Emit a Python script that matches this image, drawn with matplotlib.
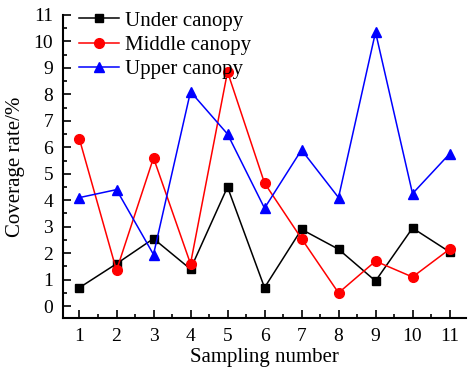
import numpy as np
import matplotlib.pyplot as plt
from matplotlib.ticker import MultipleLocator

plt.rcParams['font.family'] = ['Liberation Serif', 'DejaVu Serif']

samples = list(range(1, 12))
under = [0.7, 1.6, 2.55, 1.4, 4.5, 0.7, 2.9, 2.15, 0.95, 2.95, 2.05]
middle = [6.3, 1.35, 5.6, 1.6, 8.85, 4.65, 2.55, 0.5, 1.7, 1.1, 2.15]
upper = [4.1, 4.4, 1.95, 8.1, 6.5, 3.7, 5.9, 4.1, 10.35, 4.25, 5.75]

fig = plt.figure(figsize=(4.69, 3.72), dpi=100)
ax = fig.add_axes([0.134, 0.145, 0.86, 0.815])

ax.plot(samples, under, color='black', marker='s', markersize=6, lw=1.1, label='Under canopy')
ax.plot(samples, middle, color='red', marker='o', markersize=7, lw=1.1, label='Middle canopy')
ax.plot(samples, upper, color='blue', marker='^', markersize=7, lw=1.1, label='Upper canopy')

ax.set_xlim(0.55, 11.45)
ax.set_ylim(-0.45, 11)
ax.xaxis.set_major_locator(MultipleLocator(1))
ax.xaxis.set_minor_locator(MultipleLocator(0.5))
ax.yaxis.set_major_locator(MultipleLocator(1))
ax.yaxis.set_minor_locator(MultipleLocator(0.5))
ax.tick_params(which='both', direction='in', labelsize=14, width=1.2)
ax.tick_params(which='major', length=6, pad=7)
ax.tick_params(which='minor', length=3)
ax.spines['top'].set_visible(False)
ax.spines['right'].set_visible(False)
ax.spines['left'].set_linewidth(1.5)
ax.spines['bottom'].set_linewidth(1.5)

ax.set_xlabel('Sampling number', fontsize=15, labelpad=2)
ax.set_ylabel('Coverage rate/%', fontsize=15, labelpad=6)
ax.legend(loc='upper left', frameon=False, fontsize=15, handlelength=1.9,
          handletextpad=0.3, borderaxespad=0, labelspacing=0.22,
          bbox_to_anchor=(0.02, 1.04))

fig.savefig('out.png', dpi=100)
